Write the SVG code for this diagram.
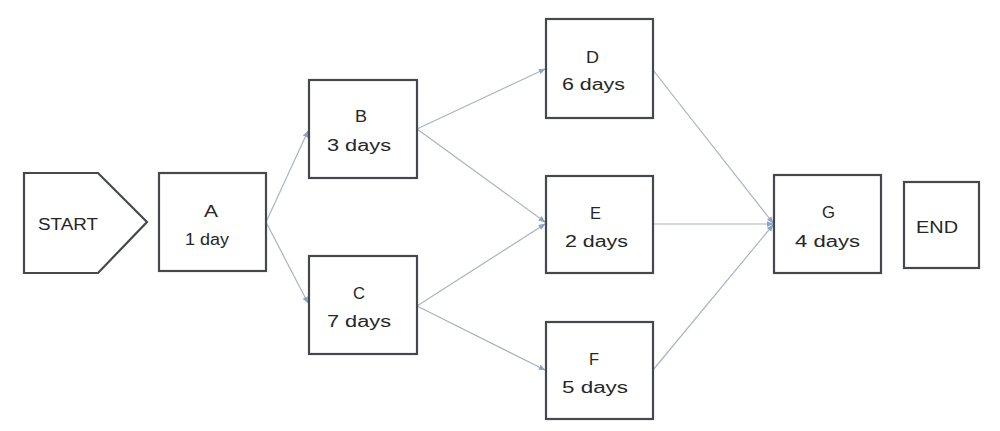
<svg xmlns="http://www.w3.org/2000/svg" width="1000" height="431" viewBox="0 0 1000 431">
<defs>
<style>
.box{fill:#ffffff;stroke:#45484d;stroke-width:2.2}
.lbl{font-family:"Liberation Sans",Arial,sans-serif;font-size:16px;fill:#262626}
.con{stroke:#aab3c0;stroke-width:1.2;fill:none;marker-end:url(#arr)}
</style>
<marker id="arr" viewBox="0 0 10 10" refX="9" refY="5" markerWidth="7" markerHeight="7" orient="auto" markerUnits="userSpaceOnUse">
<path d="M0,1 L10,5 L0,9 z" fill="#8aa3c8"/>
</marker>
</defs>
<rect width="1000" height="431" fill="#ffffff"/>
<g id="connectors">
<line class="con" x1="267" y1="220" x2="308" y2="131"/>
<line class="con" x1="267" y1="224" x2="308" y2="303"/>
<line class="con" x1="417" y1="129" x2="545" y2="69"/>
<line class="con" x1="417" y1="129" x2="545" y2="222"/>
<line class="con" x1="417" y1="306" x2="545" y2="224"/>
<line class="con" x1="417" y1="306" x2="545" y2="370"/>
<line class="con" x1="653" y1="70" x2="773" y2="223"/>
<line class="con" x1="653" y1="224" x2="773" y2="224"/>
<line class="con" x1="653" y1="370" x2="773" y2="225"/>
</g>
<g id="start">
<polygon class="box" points="24,173 98,173 147,222 98,273 24,273"/>
<text class="lbl" x="38" y="230" textLength="60" lengthAdjust="spacingAndGlyphs">START</text>
</g>
<g id="nodeA">
<rect class="box" x="159" y="173" width="107" height="98"/>
<text class="lbl" x="204" y="217" textLength="14" lengthAdjust="spacingAndGlyphs">A</text>
<text class="lbl" x="185" y="245" textLength="44" lengthAdjust="spacingAndGlyphs">1 day</text>
</g>
<g id="nodeB">
<rect class="box" x="309" y="80" width="108" height="98"/>
<text class="lbl" x="355" y="122" textLength="12" lengthAdjust="spacingAndGlyphs">B</text>
<text class="lbl" x="327" y="151" textLength="64" lengthAdjust="spacingAndGlyphs">3 days</text>
</g>
<g id="nodeC">
<rect class="box" x="309" y="256" width="108" height="98"/>
<text class="lbl" x="353" y="299" textLength="12" lengthAdjust="spacingAndGlyphs">C</text>
<text class="lbl" x="327" y="327" textLength="64" lengthAdjust="spacingAndGlyphs">7 days</text>
</g>
<g id="nodeD">
<rect class="box" x="546" y="19" width="107" height="99"/>
<text class="lbl" x="586" y="63" textLength="13" lengthAdjust="spacingAndGlyphs">D</text>
<text class="lbl" x="562" y="90" textLength="63" lengthAdjust="spacingAndGlyphs">6 days</text>
</g>
<g id="nodeE">
<rect class="box" x="546" y="176" width="107" height="97"/>
<text class="lbl" x="590" y="219" textLength="11" lengthAdjust="spacingAndGlyphs">E</text>
<text class="lbl" x="565" y="247" textLength="63" lengthAdjust="spacingAndGlyphs">2 days</text>
</g>
<g id="nodeF">
<rect class="box" x="546" y="322" width="107" height="97"/>
<text class="lbl" x="589" y="365" textLength="10" lengthAdjust="spacingAndGlyphs">F</text>
<text class="lbl" x="562" y="393" textLength="66" lengthAdjust="spacingAndGlyphs">5 days</text>
</g>
<g id="nodeG">
<rect class="box" x="774" y="175" width="107" height="98"/>
<text class="lbl" x="822" y="218" textLength="13" lengthAdjust="spacingAndGlyphs">G</text>
<text class="lbl" x="795" y="247" textLength="65" lengthAdjust="spacingAndGlyphs">4 days</text>
</g>
<g id="end">
<rect class="box" x="904" y="182" width="75" height="86"/>
<text class="lbl" x="916" y="233" textLength="42" lengthAdjust="spacingAndGlyphs">END</text>
</g>
</svg>
